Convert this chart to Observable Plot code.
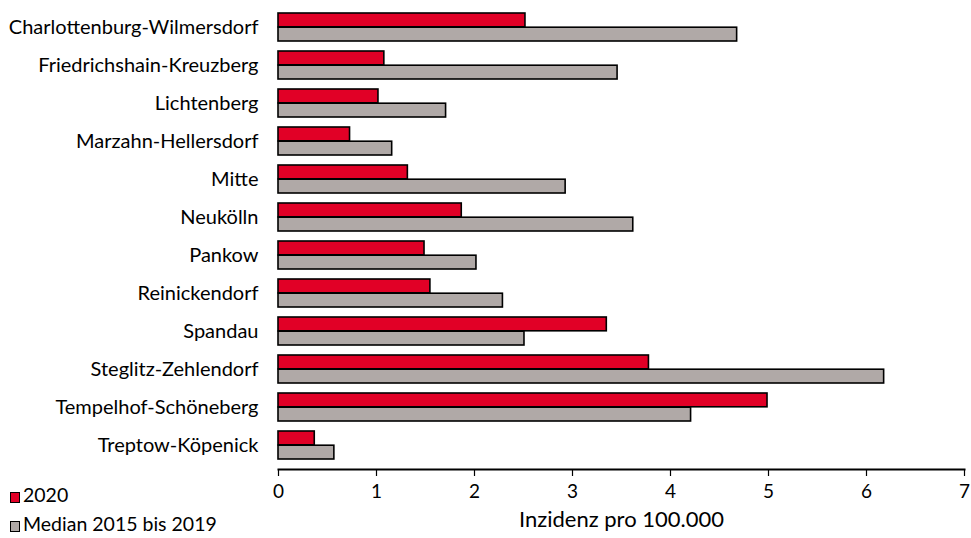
<!DOCTYPE html>
<html>
<head>
<meta charset="utf-8">
<script src="https://cdn.jsdelivr.net/npm/d3@7"></script>
<script src="https://cdn.jsdelivr.net/npm/@observablehq/plot@0.6"></script>
<style>
  html, body { margin: 0; padding: 0; background: #fff; }
  #wrap { position: relative; width: 971px; height: 538px; font-family: Lato, "Noto Sans", sans-serif; }
  #legend { position: absolute; left: 10px; top: 480px; font-size: 19.5px; color: #000; line-height: 29px; }
  #legend .sw { display: inline-block; width: 8px; height: 9px; border: 1.5px solid #000; margin-right: 3px; vertical-align: -1px; }
</style>
</head>
<body>
<div id="wrap"><div id="legend"></div></div>
<script>
const districts = [
  "Charlottenburg-Wilmersdorf", "Friedrichshain-Kreuzberg", "Lichtenberg",
  "Marzahn-Hellersdorf", "Mitte", "Neukölln", "Pankow", "Reinickendorf",
  "Spandau", "Steglitz-Zehlendorf", "Tempelhof-Schöneberg", "Treptow-Köpenick"
];
const values2020 = [2.52, 1.08, 1.02, 0.73, 1.32, 1.87, 1.49, 1.55, 3.35, 3.78, 4.99, 0.37];
const valuesMedian = [4.68, 3.46, 1.71, 1.16, 2.93, 3.62, 2.02, 2.29, 2.51, 6.18, 4.21, 0.57];
const seriesNames = ["2020", "Median 2015 bis 2019"];
const seriesColors = ["#e10026", "#b0a9a7"];
const xTicks = [0, 1, 2, 3, 4, 5, 6, 7];
const xLabel = "Inzidenz pro 100.000";

const rows2020 = districts.map((d, i) => ({district: d, value: values2020[i]}));
const rowsMedian = districts.map((d, i) => ({district: d, value: valuesMedian[i]}));

const W = 971, H = 538;
const bandHalf = 14.2;

const chart = Plot.plot({
  width: W,
  height: H,
  marginLeft: 278,
  marginRight: 7,
  marginTop: 4,
  marginBottom: 69,
  style: {fontFamily: "Lato, 'Noto Sans', sans-serif", fontSize: "20px", color: "#000", background: "#fff"},
  x: {domain: [0, 7]},
  y: {domain: districts, paddingInner: 0.26, paddingOuter: 0.13},
  marks: [
    Plot.barX(rows2020, {x: "value", y: "district", fill: seriesColors[0], stroke: "#000", strokeWidth: 1.6, insetBottom: bandHalf}),
    Plot.barX(rowsMedian, {x: "value", y: "district", fill: seriesColors[1], stroke: "#000", strokeWidth: 1.6, insetTop: bandHalf}),
    Plot.axisY({tickSize: 0, tickPadding: 20, fontSize: 20, label: null}),
    Plot.axisX({ticks: xTicks, tickSize: 7, tickPadding: 8, tickFormat: d => String(d), fontSize: 19, strokeWidth: 1.2, label: null}),
    Plot.text([xLabel], {frameAnchor: "bottom", dy: 57, fontSize: 22, fill: "#000"}),
    Plot.frame({anchor: "bottom", strokeWidth: 2})
  ]
});
document.getElementById("wrap").appendChild(chart);

const legend = document.getElementById("legend");
seriesNames.forEach((name, i) => {
  const row = document.createElement("div");
  const sw = document.createElement("span");
  sw.className = "sw";
  sw.style.background = seriesColors[i];
  row.appendChild(sw);
  row.appendChild(document.createTextNode(name));
  legend.appendChild(row);
});
</script>
</body>
</html>
